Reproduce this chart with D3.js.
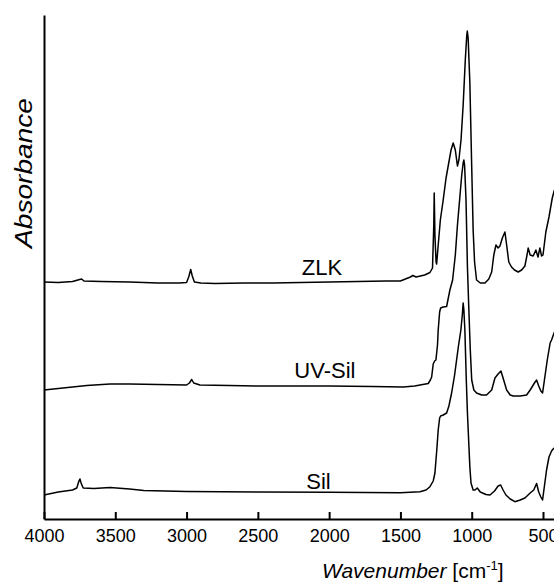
<!DOCTYPE html>
<html>
<head>
<meta charset="utf-8">
<script src="https://cdn.jsdelivr.net/npm/d3@7"></script>
<style>
  html, body { margin: 0; padding: 0; background: #fff; }
  svg { display: block; font-family: "Liberation Sans", Arial, Helvetica, sans-serif; }
</style>
</head>
<body>
<svg id="chart" width="554" height="582"></svg>
<script>
// Wavenumber (cm-1) points shared per series, absorbance in arbitrary units
const zlkWn  = [4000,3900,3800,3750,3736,3720,3600,3400,3200,3050,3000,2985,2971,2960,2945,2900,2800,2600,2400,2200,2000,1800,1600,1500,1430,1413,1390,1330,1293,1275,1266,1263,1258,1250,1246,1235,1220,1200,1180,1165,1145,1130,1115,1100,1090,1075,1060,1045,1035,1031,1025,1013,1000,990,980,966,940,907,880,860,845,830,815,802,785,767,755,740,721,700,674,650,627,612,604,590,569,550,535,522,510,500,480,458,435,420];
const zlkAbs = [237,236.5,237.5,239.5,240,238,237.5,237,236,236,236.5,242,249.5,243,237,236,235.5,236,236,236.5,237,237.5,238,238,242,243.5,242,244,246.5,251,294,326,284,257,255,274,299,319,341,353,369,376,369,353,359,379,414,459,483,488,481,436,352,289,257,239,236,236,240,247,264,274,271,273,281,287,274,257,252,249,247,249,253,264,271,264,263,269,262,271,263,264,287,302,321,329];

const uvWn  = [4000,3900,3800,3700,3537,3400,3200,3000,2980,2964,2950,2906,2700,2500,2000,1700,1480,1400,1305,1290,1281,1270,1260,1251,1240,1235,1225,1218,1200,1176,1153,1134,1115,1100,1085,1070,1060,1055,1050,1040,1030,1020,1010,1000,985,966,930,896,860,837,815,795,780,755,730,709,660,615,590,560,545,530,515,503,490,470,450,440,420];
const uvAbs = [129,130.5,132,133.5,135,135,134.5,134,136,139.5,136,134,133.5,133,133,132.5,132,133,135.5,139,142,155,158,159,174,189,207,211,212,212.5,229,239,264,294,319,344,356,359,354,319,252,209,169,139,129,126,124,124,129,141,145,148,141,129,124,123,123,124,129,136,139,133,128,126,139,159,176,179,187];

const silWn  = [4000,3900,3800,3770,3755,3748,3740,3725,3650,3537,3400,3300,3000,2500,2000,1500,1363,1320,1293,1270,1258,1245,1235,1225,1218,1200,1176,1160,1141,1120,1094,1076,1066,1060,1055,1048,1038,1030,1020,1013,1005,990,977,961,940,900,872,840,815,797,780,760,730,697,660,627,590,565,545,530,515,503,490,475,458,440,423];
const silAbs = [24,27,29,31,38,40,36,31,30.5,31.5,30,28.5,27.5,27,26.7,26.3,27.3,29,32.3,38,46,69,89,101,103,104,106,113,126,144,172,189,204,216,209,189,139,106,74,52,36,29,29,31,27,24.5,24,28,33,34,29,24,20,17.3,19,21,26,29,35.5,27,22,19,33,49,62,68,71];

const seriesNames = ["ZLK", "UV-Sil", "Sil"];
const labelWn  = [2050, 2030, 2075];   // label anchor wavenumbers
const labelAbs = [244, 141, 30];       // label baseline absorbance

const xTicks = [4000,3500,3000,2500,2000,1500,1000,500];

const svg = d3.select("#chart");
const x = d3.scaleLinear().domain([4000, 420]).range([44, 44 + 499 * 3580 / 3500]);
const y = d3.scaleLinear().domain([0, 504]).range([519, 15]);

const series = [
  {name: seriesNames[0], wn: zlkWn, ab: zlkAbs},
  {name: seriesNames[1], wn: uvWn,  ab: uvAbs},
  {name: seriesNames[2], wn: silWn, ab: silAbs}
];

const line = d3.line().x(d => x(d[0])).y(d => y(d[1]));

svg.selectAll("path.spec")
  .data(series)
  .join("path")
  .attr("class", "spec")
  .attr("d", s => line(s.wn.map((w, i) => [w, s.ab[i]])))
  .attr("fill", "none")
  .attr("stroke", "#000")
  .attr("stroke-width", 1.5)
  .attr("stroke-linejoin", "round");

// Series labels
svg.selectAll("text.lab")
  .data(series)
  .join("text")
  .attr("class", "lab")
  .attr("x", (s, i) => x(labelWn[i]))
  .attr("y", (s, i) => y(labelAbs[i]))
  .attr("text-anchor", "middle")
  .attr("font-size", 22)
  .attr("fill", "#000")
  .text(s => s.name);

// X axis
const xAxis = d3.axisBottom(x)
  .tickValues(xTicks)
  .tickFormat(d3.format("d"))
  .tickSizeInner(-7)
  .tickSizeOuter(0)
  .tickPadding(10);

const gx = svg.append("g").attr("transform", `translate(0,${y(0)})`).call(xAxis);
gx.select(".domain").attr("stroke-width", 2);
gx.selectAll(".tick line").attr("stroke-width", 2);
gx.selectAll(".tick text").attr("font-size", 18).attr("fill", "#000")
  .attr("font-family", '"Liberation Sans", Arial, sans-serif');

// Y axis (no ticks)
const yAxis = d3.axisLeft(y).tickValues([]).tickSizeOuter(0);
const gy = svg.append("g").attr("transform", `translate(${x(4000)},0)`).call(yAxis);
gy.select(".domain").attr("stroke-width", 2);

// Axis titles
const xt = svg.append("text")
  .attr("x", 322).attr("y", 578)
  .attr("font-size", 21).attr("fill", "#000");
xt.append("tspan").attr("font-style", "italic").text("Wavenumber");
xt.append("tspan").text(" [cm");
xt.append("tspan").attr("font-size", 13).attr("dy", -8).text("-1");
xt.append("tspan").attr("dy", 8).text("]");

svg.append("text")
  .attr("transform", "translate(32,173) rotate(-90)")
  .attr("text-anchor", "middle")
  .attr("font-size", 23)
  .attr("font-style", "italic")
  .attr("fill", "#000")
  .attr("textLength", 150)
  .attr("lengthAdjust", "spacingAndGlyphs")
  .text("Absorbance");
</script>
</body>
</html>
